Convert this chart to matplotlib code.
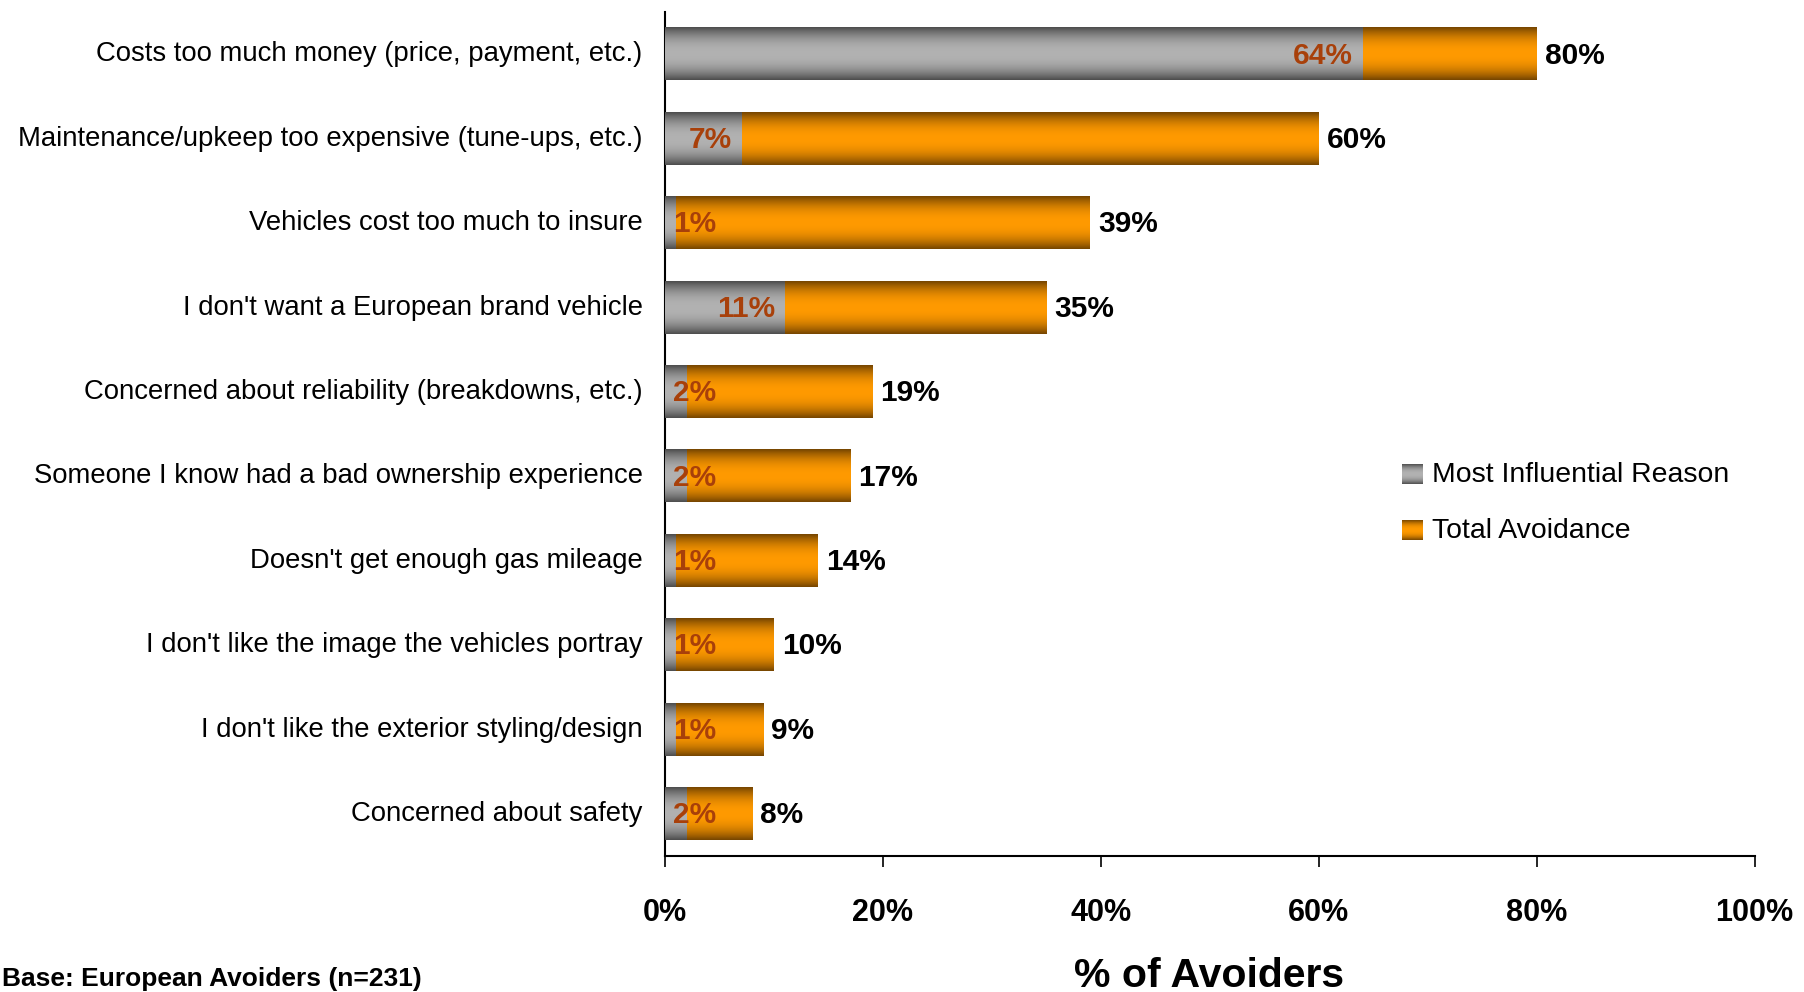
import matplotlib
matplotlib.use('Agg')
import matplotlib.pyplot as plt
import matplotlib.font_manager as fm
import matplotlib.transforms as mtransforms
from matplotlib.colors import LinearSegmentedColormap
import numpy as np


def _find_font(preferred):
    available = {f.name for f in fm.fontManager.ttflist}
    for family in preferred:
        if family in available:
            return family
    return 'DejaVu Sans'


FONT = _find_font(['Liberation Sans', 'Arial', 'DejaVu Sans'])

# -- data ---------------------------------------------------------------------
reasons = [
    'Costs too much money (price, payment, etc.)',
    'Maintenance/upkeep too expensive (tune-ups, etc.)',
    'Vehicles cost too much to insure',
    "I don't want a European brand vehicle",
    'Concerned about reliability (breakdowns, etc.)',
    'Someone I know had a bad ownership experience',
    "Doesn't get enough gas mileage",
    "I don't like the image the vehicles portray",
    "I don't like the exterior styling/design",
    'Concerned about safety',
]
most_influential = [64, 7, 1, 11, 2, 2, 1, 1, 1, 2]
total_avoidance = [80, 60, 39, 35, 19, 17, 14, 10, 9, 8]
x_ticks = [0, 20, 40, 60, 80, 100]

# -- style --------------------------------------------------------------------
GRAY_EDGE, GRAY_MID = '#4e4e4e', '#b2b2b2'
ORANGE_EDGE, ORANGE_MID = '#774600', '#ff9a00'
INNER_LABEL_C = '#a8400a'
BAR_H = 0.62
FS_CAT = 19.8
FS_VAL = 21.5

gray_cmap = LinearSegmentedColormap.from_list('g', [GRAY_EDGE, GRAY_MID, GRAY_EDGE])
orange_cmap = LinearSegmentedColormap.from_list('o', [ORANGE_EDGE, ORANGE_MID, ORANGE_EDGE])

# vertical shading profile: dark rims, bright centre
_t = np.linspace(-1, 1, 64)
_prof = 0.5 + 0.5 * np.sign(_t) * np.abs(_t) ** 2.2
GRAD = _prof.reshape(-1, 1)


def gradient_bar(ax, left, right, yc, cmap, z):
    ax.imshow(GRAD, cmap=cmap, vmin=0, vmax=1, aspect='auto',
              extent=[left, right, yc + BAR_H / 2, yc - BAR_H / 2],
              interpolation='bicubic', zorder=z)


fig = plt.figure(figsize=(18.04, 9.92), dpi=100)
fig.patch.set_facecolor('white')
ax = fig.add_axes([0.3686, 0.1371, 0.6040, 0.8508])

y = np.arange(len(reasons))
for yi, mi, tot in zip(y, most_influential, total_avoidance):
    gradient_bar(ax, 0, tot, yi, orange_cmap, 2)
    gradient_bar(ax, 0, mi, yi, gray_cmap, 3)

    # total share, just past the bar end
    ax.annotate(f'{tot}%', xy=(tot, yi), xytext=(6, -1), textcoords='offset points',
                ha='left', va='center', fontsize=FS_VAL, fontweight='bold',
                fontfamily=FONT, color='black', zorder=5)
    # most influential share, inside end of the grey segment
    if mi >= 5:
        ax.annotate(f'{mi}%', xy=(mi, yi), xytext=(-7, -1), textcoords='offset points',
                    ha='right', va='center', fontsize=FS_VAL, fontweight='bold',
                    fontfamily=FONT, color=INNER_LABEL_C, zorder=5)
    else:
        ax.annotate(f'{mi}%', xy=(0, yi), xytext=(6, -1), textcoords='offset points',
                    ha='left', va='center', fontsize=FS_VAL, fontweight='bold',
                    fontfamily=FONT, color=INNER_LABEL_C, zorder=5)

ax.set_xlim(0, 100)
ax.set_ylim(len(reasons) - 0.5, -0.5)

ax.set_yticks(y)
ax.set_yticklabels(reasons, fontsize=FS_CAT, fontfamily=FONT)
ax.tick_params(axis='y', length=0, pad=16)
# nudge category labels up a touch
_lift = mtransforms.ScaledTranslation(0, 2 / 72, fig.dpi_scale_trans)
for lbl in ax.get_yticklabels():
    lbl.set_transform(lbl.get_transform() + _lift)

ax.set_xticks(x_ticks)
ax.set_xticklabels([f'{v}%' for v in x_ticks], fontsize=22, fontweight='bold',
                   fontfamily=FONT)
ax.tick_params(axis='x', length=8, width=1.2, pad=22, direction='out')

for side in ('top', 'right'):
    ax.spines[side].set_visible(False)
for side in ('left', 'bottom'):
    ax.spines[side].set_linewidth(1.5)
    ax.spines[side].set_color('black')

fig.text(0.670, 0.016, '% of Avoiders', ha='center', va='center',
         fontsize=29.5, fontweight='bold', fontfamily=FONT)
fig.text(0.001, 0.013, 'Base: European Avoiders (n=231)', ha='left', va='center',
         fontsize=19, fontweight='bold', fontfamily=FONT)

# legend with shaded swatches
legend_items = [('Most Influential Reason', gray_cmap, 474),
                ('Total Avoidance', orange_cmap, 530)]
for text, cmap, yc in legend_items:
    sw = fig.add_axes([1402 / 1804, 1 - (yc + 10) / 992, 21 / 1804, 20 / 992])
    sw.imshow(GRAD, cmap=cmap, vmin=0, vmax=1, aspect='auto', interpolation='bicubic')
    sw.set_axis_off()
    fig.text(1432 / 1804, 1 - (yc + 1) / 992, text, ha='left', va='center',
             fontsize=20.4, fontfamily=FONT)

fig.savefig('out.png', dpi=100, facecolor='white')
